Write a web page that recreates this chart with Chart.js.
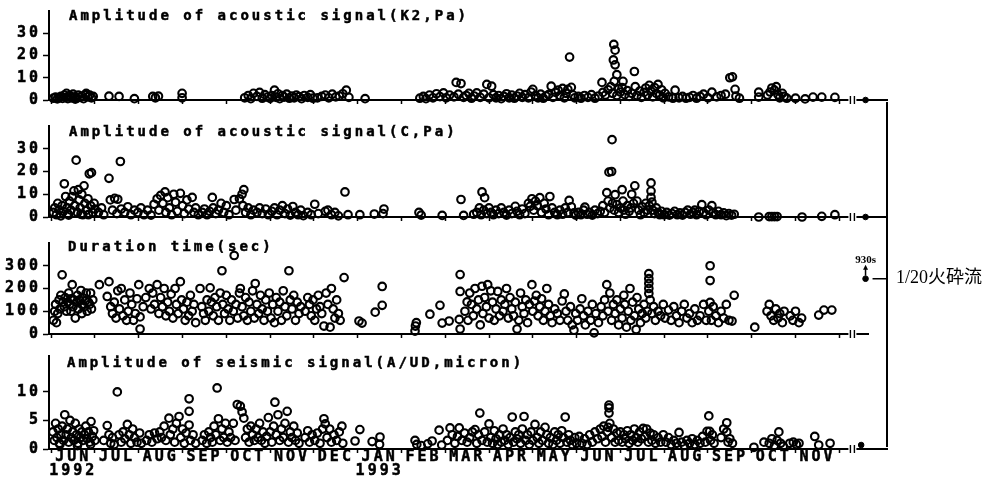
<!DOCTYPE html>
<html>
<head>
<meta charset="utf-8">
<script src="https://cdn.jsdelivr.net/npm/chart.js@4.4.1/dist/chart.umd.min.js"></script>
<style>
  html, body { margin: 0; padding: 0; background: #fff; }
  #wrap { position: relative; width: 999px; height: 478px; overflow: hidden; background: #fff; }
  canvas { position: absolute; left: 0; }
  #bracket { position: absolute; left: 886px; top: 102px; width: 2px; height: 345px; background: #000; }
  #flow { position: absolute; left: 896px; top: 267px; font: 18px "Liberation Serif", "Noto Sans CJK JP"; color: #000; white-space: nowrap; line-height: 20px; }
</style>
</head>
<body>
<div id="wrap">
  <canvas id="c1" width="999" height="112" style="top:0px"></canvas>
  <canvas id="c2" width="999" height="120" style="top:112px"></canvas>
  <canvas id="c3" width="999" height="113" style="top:232px"></canvas>
  <canvas id="c4" width="999" height="133" style="top:345px"></canvas>
  <div id="bracket"></div>
  <div id="flow">1/20火砕流</div>
</div>
<script>
// x values are months counted from 1 June 1992 (0 = JUN 1992, 7 = JAN 1993)
const monthLabels = ['JUN','JUL','AUG','SEP','OCT','NOV','DEC','JAN','FEB','MAR','APR','MAY','JUN','JUL','AUG','SEP','OCT','NOV'];
const yearLabels = ['1992','','','','','','','1993','','','','','','','','','',''];

const k2Ticks = [0, 10, 20, 30];
const cTicks = [0, 10, 20, 30];
const durTicks = [0, 100, 200, 300];
const seisTicks = [0, 5, 10];

// Amplitude of acoustic signal (K2, Pa)
const k2Points = [
  [0.05,0.8],[0.1,1.3],[0.14,0.5],[0.18,1.0],[0.22,1.6],[0.26,0.7],[0.3,2.2],[0.34,1.2],[0.38,0.6],[0.42,2.0],[0.46,1.0],[0.5,2.6],[0.54,1.4],[0.58,0.8],[0.62,2.2],[0.66,1.2],[0.7,1.8],[0.74,0.6],[0.78,2.4],[0.8,3.0],[0.84,1.4],[0.88,2.2],[0.92,1.0],[0.96,1.6],[0.55,0.4],[0.35,3.0],
  [1.32,1.7],[1.55,1.6],[1.9,0.6],[2.32,1.6],[2.45,1.7],[2.38,1.0],[2.99,3.0],[2.99,1.0],
  [4.42,1.0],[4.5,2.0],[4.56,0.6],[4.62,3.0],[4.7,1.6],[4.76,3.4],[4.82,0.8],[4.88,2.4],[4.94,1.3],[5.0,0.7],[5.04,2.0],[5.1,4.4],[5.14,1.2],[5.18,2.8],[5.22,0.6],[5.28,2.0],[5.32,1.3],[5.38,2.6],[5.44,0.8],[5.5,1.8],[5.55,1.0],[5.6,2.2],[5.66,1.5],[5.72,0.6],[5.78,2.0],[5.86,1.2],[5.92,2.4],[5.98,0.8],[6.08,1.0],[6.18,1.6],[6.26,2.2],[6.34,1.0],[6.42,2.6],[6.5,1.4],[6.58,1.8],[6.66,2.8],[6.74,4.4],[6.8,1.2],[7.17,0.6],
  [8.42,0.8],[8.5,1.6],[8.56,0.6],[8.64,2.2],[8.72,1.0],[8.8,2.8],[8.88,1.5],[8.96,3.2],[9.02,1.0],[9.1,2.2],[9.2,1.4],[9.25,7.9],[9.36,7.4],[9.3,2.6],[9.42,1.2],[9.48,2.0],[9.54,3.0],[9.6,0.8],[9.66,1.8],[9.72,3.2],[9.8,1.2],[9.88,2.6],[9.95,7.0],[10.0,1.0],[10.06,6.2],[10.1,2.4],
  [10.16,1.0],[10.22,2.0],[10.28,0.6],[10.34,1.6],[10.4,2.8],[10.46,1.0],[10.52,2.2],[10.58,0.8],[10.64,1.8],[10.7,3.0],[10.76,1.2],[10.82,2.4],[10.9,1.0],[10.96,3.6],[11.0,4.8],[11.06,2.0],[11.12,1.0],[11.18,2.6],[11.24,0.8],[11.3,1.8],[11.36,2.4],[11.42,6.2],[11.46,1.2],[11.52,3.4],[11.58,4.4],[11.62,2.0],[11.68,5.2],[11.72,1.0],[11.76,3.0],[11.8,4.8],[11.84,19.3],[11.88,5.7],[11.92,2.2],[11.96,1.0],
  [12.04,1.6],[12.1,0.8],[12.18,2.0],[12.26,1.2],[12.34,2.4],[12.42,0.8],[12.5,1.8],[12.58,7.9],[12.6,3.4],[12.66,2.2],[12.72,4.6],[12.78,6.0],[12.82,3.0],[12.85,25.0],[12.88,22.4],[12.84,18.0],[12.88,15.8],[12.92,11.4],[12.86,8.4],[12.96,5.0],[12.92,2.0],[13.0,3.6],[13.06,8.4],[13.04,5.6],[13.1,2.4],[13.16,4.2],[13.2,1.6],[13.26,3.0],[13.32,12.8],[13.34,6.0],
  [13.38,2.0],[13.44,4.0],[13.48,1.2],[13.54,3.4],[13.58,5.4],[13.62,2.2],[13.66,6.6],[13.7,4.0],[13.74,1.4],[13.78,5.6],[13.82,3.0],[13.86,7.0],[13.9,2.2],[13.94,4.6],[13.98,1.0],[14.02,3.0],
  [14.1,1.4],[14.2,0.8],[14.25,4.4],[14.34,1.0],[14.42,1.6],[14.5,0.8],[14.58,1.2],[14.66,2.0],[14.74,0.8],[14.82,1.6],[14.9,2.6],[15.0,1.0],[15.09,3.5],[15.2,1.4],[15.3,2.0],[15.4,2.6],
  [15.5,10.0],[15.56,10.4],[15.62,4.8],[15.64,1.7],[15.72,0.8],
  [16.16,3.5],[16.16,1.3],[16.36,2.2],[16.42,3.6],[16.46,5.4],[16.52,4.4],[16.56,6.0],[16.6,2.4],[16.64,1.0],[16.7,3.0],[16.74,1.6],[16.8,0.8],[17.0,0.8],[17.22,0.5],[17.4,1.3],[17.6,1.3],[17.9,1.2]
];

// Amplitude of acoustic signal (C, Pa)
const cPoints = [
  [0.05,2.0],[0.08,4.0],[0.12,1.0],[0.15,6.0],[0.18,3.0],[0.22,0.5],[0.25,5.0],[0.28,2.5],[0.3,14.6],[0.33,9.0],[0.36,4.0],[0.38,1.5],[0.42,7.0],[0.45,3.0],[0.48,9.0],[0.52,11.5],[0.54,5.0],[0.57,25.0],[0.6,2.0],[0.62,12.0],[0.64,7.5],[0.66,4.0],[0.7,10.0],[0.72,1.0],[0.75,13.7],[0.77,6.0],[0.8,3.0],[0.84,8.0],[0.87,19.0],[0.92,19.5],[0.9,5.0],[0.95,2.0],[0.98,6.0],[1.0,3.5],[0.4,0.8],[0.68,1.2],[0.85,1.0],
  [1.08,2.0],[1.15,4.0],[1.2,1.0],[1.32,17.0],[1.35,7.5],[1.45,8.2],[1.52,7.8],[1.58,24.4],[1.4,3.0],[1.5,1.5],[1.6,3.5],[1.68,2.0],[1.75,4.5],[1.82,1.0],[1.9,3.0],[1.98,2.0],[2.05,4.0],[2.12,1.0],[2.2,3.0],[2.28,0.8],
  [2.35,5.6],[2.42,8.0],[2.46,3.0],[2.5,9.5],[2.55,6.0],[2.6,11.0],[2.62,2.0],[2.66,8.5],[2.7,4.0],[2.75,1.0],[2.8,10.0],[2.84,6.5],[2.88,2.5],[2.95,10.4],[3.0,5.0],[3.04,1.5],[3.1,7.5],[3.14,3.5],[3.22,8.6],[3.26,2.0],[3.3,4.0],[3.36,1.0],
  [3.45,2.0],[3.5,3.5],[3.56,1.0],[3.62,2.5],[3.68,8.6],[3.7,4.0],[3.76,1.5],[3.82,3.0],[3.88,6.0],[3.94,2.0],[4.0,5.0],[4.06,1.0],
  [4.18,7.7],[4.22,3.0],[4.3,8.0],[4.36,10.0],[4.4,12.0],[4.38,5.0],[4.44,2.0],[4.5,4.0],[4.56,1.0],[4.62,3.0],[4.7,2.0],[4.76,4.0],[4.82,1.5],[4.9,3.5],[4.96,1.0],
  [5.04,2.5],[5.1,4.0],[5.16,1.0],[5.22,3.0],[5.28,5.0],[5.34,1.5],[5.4,3.5],[5.46,0.8],[5.52,4.6],[5.58,2.0],[5.64,1.0],[5.7,3.0],[5.76,0.6],[5.86,2.0],[5.94,1.0],[6.02,5.6],[6.1,1.5],[6.26,2.5],[6.32,3.0],[6.4,1.0],[6.48,2.0],[6.56,0.5],[6.71,11.0],[6.78,1.0],
  [7.05,1.0],[7.38,1.3],[7.6,3.5],[7.58,1.5],[8.4,2.0],[8.45,0.8],[8.93,0.7],
  [9.36,7.7],[9.42,0.7],[9.65,1.2],[9.84,11.0],[9.9,8.5],[9.72,2.0],[9.78,4.0],[9.82,1.0],[9.88,3.0],[9.95,1.5],[10.0,4.0],[10.05,2.0],
  [10.1,1.0],[10.16,3.0],[10.22,1.5],[10.28,4.0],[10.34,2.0],[10.4,0.8],[10.46,3.0],[10.52,1.5],[10.6,4.7],[10.64,2.5],[10.7,1.0],[10.76,3.5],[10.82,1.5],[10.9,6.0],[10.94,4.7],[10.98,8.0],[11.02,3.0],[11.06,7.0],[11.1,5.0],[11.16,8.5],[11.2,2.0],[11.26,6.0],[11.3,3.5],[11.36,1.0],[11.39,9.0],[11.44,4.0],[11.5,2.0],[11.56,1.0],[11.62,3.0],[11.68,1.2],[11.74,4.0],[11.8,2.0],[11.83,7.3],[11.88,4.5],[11.94,1.8],[11.98,0.8],
  [12.04,2.0],[12.1,1.0],[12.16,3.0],[12.19,4.3],[12.24,1.2],[12.3,2.0],[12.36,0.8],[12.42,3.0],[12.48,1.5],[12.54,2.5],[12.6,5.0],[12.64,2.0],[12.69,10.7],[12.72,7.0],[12.74,19.7],[12.8,20.0],[12.81,34.0],[12.76,4.0],[12.82,6.0],[12.86,3.0],[12.88,9.8],[12.92,5.5],[12.96,2.0],[13.0,4.0],[13.04,12.0],[13.06,7.0],[13.08,3.0],[13.12,1.2],[13.16,5.0],[13.2,2.5],
  [13.24,4.0],[13.26,10.0],[13.3,6.0],[13.33,13.7],[13.38,7.0],[13.42,3.0],[13.46,1.0],[13.5,4.5],[13.54,2.0],[13.58,6.0],[13.62,3.0],[13.66,5.0],[13.7,15.0],[13.7,11.4],[13.7,8.6],[13.72,6.5],[13.74,3.0],[13.78,1.5],[13.82,4.0],[13.86,2.0],[13.9,1.0],[13.94,2.5],
  [14.0,1.0],[14.06,2.0],[14.12,0.8],[14.18,1.5],[14.24,2.5],[14.3,1.0],[14.36,1.8],[14.42,0.8],[14.48,2.0],[14.54,3.0],[14.6,1.2],[14.66,2.0],[14.7,3.0],[14.74,1.0],[14.8,2.5],[14.86,5.4],[14.9,2.0],[14.96,1.0],[15.02,3.0],[15.09,5.0],[15.12,2.0],[15.18,1.0],[15.24,2.5],[15.3,1.0],[15.36,1.8],[15.42,0.6],[15.48,1.5],[15.54,0.8],[15.6,1.2],
  [16.16,0.0],[16.4,0.2],[16.46,0.2],[16.52,0.2],[16.58,0.2],[17.15,0.0],[17.6,0.3],[17.9,1.0]
];

// Duration time (sec)
const durPoints = [
  [0.05,60],[0.08,100],[0.1,130],[0.12,50],[0.15,90],[0.18,150],[0.2,110],[0.22,170],[0.25,260],[0.27,140],[0.3,120],[0.32,160],[0.35,100],[0.38,140],[0.4,180],[0.42,130],[0.45,155],[0.48,217],[0.5,120],[0.52,150],[0.55,70],[0.58,140],[0.6,170],[0.62,110],[0.65,150],[0.68,191],[0.7,130],[0.72,160],[0.75,120],[0.78,145],[0.8,180],[0.82,100],[0.85,140],[0.88,130],[0.9,180],[0.92,110],[0.95,150],[1.1,217],[0.45,100],[0.7,90],
  [1.28,165],[1.32,230],[1.36,120],[1.4,90],[1.44,140],[1.48,70],[1.52,190],[1.56,110],[1.6,200],[1.64,80],[1.68,150],[1.72,60],[1.76,100],[1.8,180],[1.84,130],[1.88,60],[1.92,90],[1.96,155],[2.0,217],[2.03,75],[2.03,22],
  [2.1,120],[2.16,160],[2.24,200],[2.28,110],[2.32,180],[2.36,130],[2.42,217],[2.46,90],[2.5,160],[2.54,120],[2.58,200],[2.62,80],[2.66,140],[2.7,100],[2.74,175],[2.78,70],[2.83,200],[2.86,130],[2.9,90],[2.95,230],[2.98,150],[3.02,110],[3.06,60],[3.1,140],[3.14,80],[3.18,170],[3.22,100],[3.26,130],[3.3,50],
  [3.4,200],[3.44,120],[3.48,90],[3.52,60],[3.56,150],[3.6,100],[3.63,203],[3.66,140],[3.7,80],[3.74,160],[3.78,120],[3.82,60],[3.86,180],[3.9,278],[3.92,130],[3.96,90],[4.0,170],[4.04,110],[4.08,60],
  [4.12,150],[4.16,100],[4.18,345],[4.22,130],[4.26,70],[4.3,180],[4.32,200],[4.36,120],[4.4,80],[4.44,160],[4.48,60],[4.52,140],[4.56,100],[4.6,190],[4.64,70],[4.66,222],[4.7,130],[4.74,90],[4.78,170],[4.82,110],[4.86,60],
  [4.9,150],[4.94,100],[4.98,180],[5.02,70],[5.06,130],[5.1,50],[5.14,160],[5.18,100],[5.22,140],[5.26,60],[5.3,190],[5.34,120],[5.38,80],[5.43,278],[5.46,150],[5.5,110],[5.54,170],[5.58,60],[5.62,140],[5.66,90],[5.7,120],
  [5.8,100],[5.86,160],[5.9,130],[5.94,80],[5.98,150],[6.02,60],[6.06,110],[6.1,170],[6.14,120],[6.18,90],[6.23,35],[6.28,180],[6.32,130],[6.37,30],[6.4,200],[6.44,110],[6.48,70],[6.52,150],[6.56,90],[6.6,60],[6.69,248],
  [7.03,57],[7.1,48],[7.4,96],[7.56,209],[7.56,126],
  [8.31,13],[8.32,35],[8.34,50],[8.65,87],[8.88,126],[8.93,48],[9.09,57],[9.32,64],[9.34,261],[9.34,187],[9.34,22],[9.5,141],
  [9.45,100],[9.52,60],[9.56,180],[9.6,130],[9.64,80],[9.68,200],[9.72,110],[9.76,150],[9.8,40],[9.84,210],[9.86,90],[9.9,160],[9.94,120],[9.97,217],[10.0,70],[10.04,190],[10.08,140],[10.12,60],[10.16,110],[10.2,187],[10.24,80],[10.28,150],[10.32,100],[10.36,130],[10.4,200],[10.44,70],[10.48,160],[10.52,110],[10.56,80],[10.6,140],[10.64,22],[10.68,60],[10.72,180],[10.76,120],[10.8,90],[10.84,150],[10.88,50],[10.92,130],[10.98,217],[11.0,100],[11.04,145],[11.08,170],[11.12,80],[11.16,120],[11.2,155],[11.24,60],[11.28,100],[11.32,200],[11.36,130],[11.4,80],[11.44,50],[11.5,110],[11.56,90],[11.62,60],[11.67,145],[11.72,176],[11.76,100],[11.8,60],[11.86,120],[11.9,40],[11.94,17],[11.98,90],
  [12.02,60],[12.08,110],[12.12,155],[12.16,80],[12.2,40],[12.26,100],[12.32,60],[12.36,130],[12.4,5],[12.44,90],[12.5,50],[12.56,120],[12.6,80],[12.64,150],[12.69,217],[12.72,100],[12.76,180],[12.8,60],[12.84,130],[12.88,90],[12.92,150],[12.96,40],
  [13.0,110],[13.04,70],[13.08,170],[13.1,130],[13.14,30],[13.18,100],[13.22,200],[13.24,60],[13.28,140],[13.32,80],[13.36,20],[13.38,160],[13.42,110],[13.46,50],[13.5,90],[13.54,130],[13.58,70],[13.62,100],[13.65,265],[13.65,243],[13.65,222],[13.65,200],[13.65,178],[13.68,150],[13.72,90],[13.76,120],[13.8,60],[13.86,100],[13.92,80],[13.98,130],
  [14.02,70],[14.1,105],[14.16,60],[14.22,120],[14.28,80],[14.34,50],[14.4,100],[14.46,130],[14.52,70],[14.58,90],[14.64,50],[14.7,110],[14.76,60],[14.82,80],[14.9,130],[14.96,60],[15.05,300],[15.05,235],[15.05,139],[15.02,100],[15.08,60],[15.12,120],[15.18,80],[15.24,50],[15.3,100],[15.36,70],[15.42,130],[15.48,60],[15.55,57],[15.6,170],
  [16.07,30],[16.35,100],[16.4,130],[16.44,80],[16.5,60],[16.55,110],[16.6,70],[16.64,90],[16.7,50],[16.74,100],[16.88,80],[16.94,60],[17.0,100],[17.08,50],[17.14,70],[17.53,83],[17.65,105],[17.83,105]
];

// Amplitude of seismic signal (A/UD, micron)
const seisPoints = [
  [0.04,3.0],[0.07,1.5],[0.1,4.5],[0.13,2.0],[0.16,3.5],[0.19,1.0],[0.22,2.5],[0.25,4.0],[0.28,1.5],[0.31,6.0],[0.34,2.5],[0.37,3.5],[0.4,1.2],[0.43,5.0],[0.46,2.0],[0.49,3.0],[0.52,1.5],[0.55,4.5],[0.58,2.5],[0.61,1.0],[0.64,3.5],[0.67,2.0],[0.7,3.0],[0.73,1.5],[0.76,2.5],[0.79,4.0],[0.82,1.8],[0.85,3.0],[0.88,1.2],[0.91,4.8],[0.94,2.2],[0.97,3.2],[1.0,1.5],[0.2,0.8],[0.6,0.6],[0.9,0.8],
  [1.2,1.5],[1.28,4.1],[1.32,2.5],[1.36,1.0],[1.4,2.0],[1.44,0.8],[1.51,10.0],[1.55,2.5],[1.6,1.2],[1.64,3.0],[1.68,1.8],[1.74,4.3],[1.78,2.5],[1.82,1.0],[1.86,3.5],[1.9,2.0],[1.96,1.2],[2.02,2.8],[2.06,1.0],
  [2.18,1.5],[2.24,2.5],[2.3,1.2],[2.36,2.8],[2.42,1.8],[2.48,3.0],[2.52,2.0],[2.58,4.0],[2.62,1.5],[2.69,5.4],[2.72,2.5],[2.78,3.5],[2.82,1.2],[2.86,4.5],[2.92,5.7],[2.96,2.0],[3.0,3.5],[3.04,1.0],[3.08,2.8],[3.15,8.8],[3.15,6.6],[3.15,4.2],[3.18,1.5],[3.24,2.5],[3.3,1.0],
  [3.45,1.5],[3.5,2.5],[3.55,1.0],[3.6,3.0],[3.64,2.0],[3.68,1.2],[3.72,4.0],[3.76,2.5],[3.79,10.7],[3.82,5.3],[3.86,1.5],[3.9,3.5],[3.94,2.0],[3.98,4.5],[4.02,1.2],[4.06,3.0],[4.1,2.0],
  [4.16,4.5],[4.2,1.5],[4.25,7.8],[4.32,7.5],[4.36,6.5],[4.4,5.4],[4.44,2.0],[4.48,3.5],[4.52,1.2],[4.56,4.0],[4.6,2.5],[4.64,1.5],[4.68,3.5],[4.72,2.0],[4.76,4.5],[4.8,1.5],[4.84,3.0],[4.88,1.0],[4.92,2.2],[4.96,5.5],[5.0,3.0],[5.04,1.2],
  [5.08,4.0],[5.11,8.2],[5.14,2.5],[5.18,6.0],[5.22,1.5],[5.26,3.5],[5.3,2.0],[5.34,4.5],[5.39,6.6],[5.42,1.2],[5.46,3.0],[5.5,2.0],[5.54,4.0],[5.58,1.5],[5.62,2.8],[5.66,1.0],
  [5.8,2.0],[5.86,3.2],[5.9,1.2],[5.96,2.5],[6.02,1.5],[6.08,2.8],[6.14,1.0],[6.2,3.5],[6.23,5.3],[6.26,4.4],[6.3,2.0],[6.36,3.5],[6.4,1.2],[6.46,2.5],[6.52,1.5],[6.58,3.0],[6.64,4.0],[6.66,1.0],
  [6.94,1.4],[7.05,3.4],[7.33,1.3],[7.51,2.1],[7.5,0.8],[8.31,1.5],[8.35,0.8],[8.45,0.6],[8.6,0.9],[8.7,1.4],[8.86,3.3],[8.92,0.7],
  [9.05,1.5],[9.11,3.7],[9.16,2.5],[9.22,1.0],[9.28,2.2],[9.32,3.7],[9.38,1.5],[9.44,2.8],[9.5,1.2],[9.56,2.0],[9.62,3.0],[9.68,3.4],[9.72,1.0],[9.76,2.5],[9.79,6.3],[9.84,1.5],[9.9,3.0],[9.96,1.2],[10.0,4.4],[10.04,2.0],
  [10.08,1.0],[10.12,3.2],[10.16,1.8],[10.2,0.8],[10.24,2.5],[10.28,1.2],[10.32,3.5],[10.36,1.5],[10.4,2.5],[10.44,0.8],[10.48,2.0],[10.53,5.6],[10.56,1.2],[10.6,3.0],[10.64,1.8],[10.68,2.5],[10.72,1.0],[10.76,3.5],[10.8,5.7],[10.84,1.5],[10.88,2.5],[10.92,0.8],[10.96,3.0],
  [11.0,1.5],[11.05,4.3],[11.1,2.0],[11.14,1.0],[11.18,3.0],[11.22,1.5],[11.28,3.8],[11.32,2.5],[11.36,1.0],[11.4,2.0],[11.46,0.8],[11.5,3.0],[11.54,1.5],[11.58,2.5],[11.62,1.0],[11.66,3.2],[11.7,2.0],[11.74,5.6],[11.78,1.2],[11.82,2.5],[11.86,1.5],[11.9,0.8],[11.96,2.0],
  [12.0,1.0],[12.06,2.2],[12.12,1.0],[12.18,1.8],[12.24,0.8],[12.3,2.5],[12.36,1.2],[12.42,3.0],[12.48,1.8],[12.54,3.5],[12.58,2.2],[12.62,4.0],[12.66,1.2],[12.7,3.0],[12.74,7.7],[12.74,7.2],[12.74,6.3],[12.76,4.5],[12.72,3.8],[12.8,2.0],[12.84,3.5],[12.88,1.2],[12.92,2.8],[12.96,1.5],
  [13.0,3.0],[13.04,1.2],[13.08,2.5],[13.12,1.8],[13.16,3.2],[13.2,1.0],[13.24,2.5],[13.28,1.5],[13.32,3.5],[13.36,2.0],[13.4,1.2],[13.44,3.0],[13.48,1.8],[13.52,3.6],[13.56,2.2],[13.6,3.5],[13.64,1.2],[13.68,2.8],[13.72,1.5],[13.76,2.5],[13.8,1.0],[13.86,2.0],[13.92,1.2],[13.98,2.5],
  [14.04,1.2],[14.1,2.0],[14.16,0.8],[14.22,1.5],[14.28,1.0],[14.34,2.9],[14.4,1.2],[14.46,0.6],[14.52,1.5],[14.58,1.0],[14.64,1.8],[14.7,0.8],[14.76,1.5],[14.82,1.0],[14.88,2.2],[14.94,1.2],[14.98,3.1],[15.02,5.8],[15.04,3.1],[15.06,1.5],[15.1,2.5],[15.14,1.0],
  [15.3,2.0],[15.36,3.5],[15.43,4.6],[15.43,3.0],[15.46,1.2],[15.5,1.8],[15.56,1.0],
  [16.05,0.3],[16.28,1.2],[16.4,1.0],[16.46,1.8],[16.52,0.6],[16.58,1.5],[16.62,3.0],[16.66,1.0],[16.72,0.5],[16.87,1.0],[16.95,1.2],[17.02,0.8],[17.08,1.0],[17.44,2.2],[17.53,0.7],[17.79,1.0]
];

// the 1/20 pyroclastic flow, drawn as a filled dot past the axis break
const flowK2 = [[18.6, 0]];
const flowC = [[18.6, 0]];
const flowDur = [[18.6, 243]];
const flowSeis = [[18.5, 0.7]];

const monoFont = 'DejaVu Sans Mono';

const decor = {
  id: 'decor',
  beforeDraw(chart) {
    chart.ctx.letterSpacing = '3px';
  },
  afterDraw(chart, args, o) {
    const ctx = chart.ctx;
    const xs = chart.scales.x, ys = chart.scales.y;
    const base = chart.chartArea.bottom;
    ctx.save();
    ctx.fillStyle = '#000';
    ctx.strokeStyle = '#000';
    ctx.letterSpacing = '3px';
    ctx.font = 'bold 14px "' + monoFont + '"';
    ctx.textBaseline = 'alphabetic';
    ctx.textAlign = 'left';
    ctx.lineWidth = 0.5;
    ctx.fillText(o.title, o.titleX, o.titleY);
    ctx.strokeText(o.title, o.titleX, o.titleY);

    // break in the time axis
    const bx = xs.getPixelForValue(18.3);
    ctx.fillStyle = '#fff';
    ctx.fillRect(bx - 4, base - 3, 8, 6);
    if (o.cut) ctx.fillRect(869, base - 3, 30, 6);
    ctx.lineWidth = 1.4;
    ctx.beginPath();
    ctx.moveTo(bx - 2, base - 4); ctx.lineTo(bx - 2, base + 4);
    ctx.moveTo(bx + 2, base - 4); ctx.lineTo(bx + 2, base + 4);
    ctx.stroke();

    if (o.arrow) {
      const px = xs.getPixelForValue(flowDur[0][0]);
      const py = ys.getPixelForValue(flowDur[0][1]);
      ctx.lineWidth = 1.5;
      ctx.beginPath();
      ctx.moveTo(px, py - 3); ctx.lineTo(px, py - 10);
      ctx.moveTo(px + 7, py); ctx.lineTo(887, py);
      ctx.stroke();
      ctx.fillStyle = '#000';
      ctx.beginPath();
      ctx.moveTo(px, py - 14); ctx.lineTo(px - 2.5, py - 9); ctx.lineTo(px + 2.5, py - 9);
      ctx.closePath(); ctx.fill();
      ctx.letterSpacing = '0px';
      ctx.font = 'bold 11px "Liberation Serif"';
      ctx.textAlign = 'center';
      ctx.fillText(o.arrow, px, py - 16);
    }
    ctx.restore();
  }
};

function makePanel(id, points, flow, yTicks, p) {
  return new Chart(document.getElementById(id), {
    type: 'scatter',
    data: {
      datasets: [
        {
          data: points.map(([x, y]) => ({x, y})),
          pointRadius: 3.8, pointHoverRadius: 3.8, pointBorderWidth: 2.1,
          pointBorderColor: '#000', pointBackgroundColor: 'rgba(0,0,0,0)',
          clip: false
        },
        {
          data: flow.map(([x, y]) => ({x, y})),
          pointRadius: 2.8, pointHoverRadius: 2.8, pointBorderWidth: 1,
          pointBorderColor: '#000', pointBackgroundColor: '#000',
          clip: false
        }
      ]
    },
    options: {
      responsive: false,
      animation: false,
      events: [],
      layout: { padding: { top: p.padTop, right: 112, left: 0, bottom: 0 } },
      plugins: {
        legend: { display: false },
        tooltip: { enabled: false },
        decor: { title: p.title, titleX: p.titleX, titleY: p.titleY, cut: !!p.cut, arrow: p.arrow || '' }
      },
      scales: {
        x: {
          type: 'linear', min: -0.05, max: 19.09,
          afterBuildTicks: s => { s.ticks = monthLabels.map((m, i) => ({ value: i })).concat([{ value: 18 }]); },
          afterFit: s => { s.height = p.xHeight; },
          grid: { drawOnChartArea: false, tickLength: 4, tickColor: '#000', tickWidth: 1.5 },
          border: { color: '#000', width: 2 },
          ticks: {
            display: !!p.showMonths, autoSkip: false, maxRotation: 0, minRotation: 0,
            labelOffset: 22, padding: -3, color: '#000',
            textStrokeColor: '#000', textStrokeWidth: 0.5,
            font: { family: monoFont, weight: 'bold', size: 15, lineHeight: 0.95 },
            callback: (v, i) => i < monthLabels.length ? (yearLabels[i] ? [monthLabels[i], yearLabels[i]] : monthLabels[i]) : ''
          }
        },
        y: {
          min: 0, max: p.yMax,
          afterBuildTicks: s => { s.ticks = yTicks.map(v => ({ value: v })); },
          afterFit: s => { s.width = 49; },
          grid: { drawOnChartArea: false, tickLength: 6, tickColor: '#000', tickWidth: 1.5 },
          border: { color: '#000', width: 2 },
          ticks: {
            color: '#000', padding: 2,
            textStrokeColor: '#000', textStrokeWidth: 0.5,
            font: { family: monoFont, weight: 'bold', size: 15 }
          }
        }
      }
    },
    plugins: [decor]
  });
}

makePanel('c1', k2Points, flowK2, k2Ticks, {
  title: 'Amplitude of acoustic signal(K2,Pa)', titleX: 69, titleY: 20,
  padTop: 11, xHeight: 12, yMax: 40
});
makePanel('c2', cPoints, flowC, cTicks, {
  title: 'Amplitude of acoustic signal(C,Pa)', titleX: 69, titleY: 136 - 112,
  padTop: 14, xHeight: 15, yMax: 40
});
makePanel('c3', durPoints, flowDur, durTicks, {
  title: 'Duration time(sec)', titleX: 68, titleY: 251 - 232,
  padTop: 8.5, xHeight: 11, yMax: 400, cut: true, arrow: '930s'
});
makePanel('c4', seisPoints, flowSeis, seisTicks, {
  title: 'Amplitude of seismic signal(A/UD,micron)', titleX: 67, titleY: 367 - 345,
  padTop: 10, xHeight: 29, yMax: 16.3, showMonths: true
});
</script>
</body>
</html>
